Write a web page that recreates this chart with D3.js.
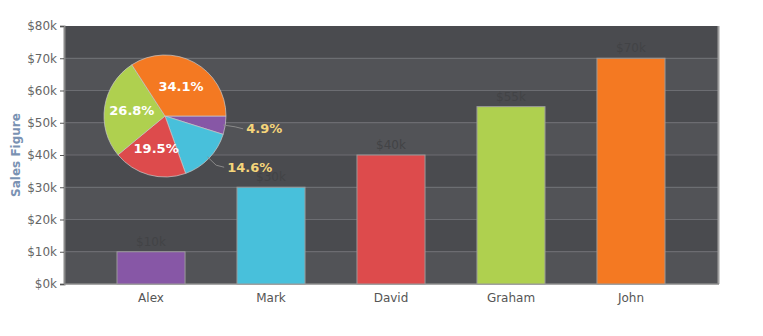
<!DOCTYPE html>
<html>
<head>
<meta charset="utf-8">
<script src="https://cdn.jsdelivr.net/npm/d3@7"></script>
<style>
  body { margin: 0; background: #fff; }
  text { font-family: "DejaVu Sans", Verdana, sans-serif; }
</style>
</head>
<body>
<svg class="rootSvg" width="763" height="336"></svg>
<script>
var names = ['Alex', 'Mark', 'David', 'Graham', 'John'];
var sales = [10000, 30000, 40000, 55000, 70000];
var colors = ['#8757a6', '#48c0db', '#dd4b4c', '#afd04f', '#f47922'];
var yTicks = [0, 10000, 20000, 30000, 40000, 50000, 60000, 70000, 80000];

var plotLeft = 64, plotRight = 718, plotTop = 26, plotBottom = 284;
var svg = d3.select('.rootSvg');

var x = d3.scaleBand()
    .domain(names)
    .range([plotLeft + 27, plotRight - 27])
    .paddingInner(0.433)
    .paddingOuter(0.2167);

var y = d3.scaleLinear()
    .domain([0, 80000])
    .range([plotBottom, plotTop]);

function money(v) {
    return '$' + (v / 1000) + 'k';
}

// Alternating bands
svg.append('g')
    .selectAll('rect')
    .data(yTicks.slice(0, -1))
    .enter()
    .append('rect')
        .attr('x', plotLeft)
        .attr('y', function (d) { return y(d + 10000); })
        .attr('width', plotRight - plotLeft)
        .attr('height', function (d) { return y(d) - y(d + 10000); })
        .attr('fill', function (d, i) { return i % 2 === 0 ? '#525357' : '#4a4b4f'; });

// Grid lines
svg.append('g')
    .selectAll('line')
    .data(yTicks.slice(1, -1))
    .enter()
    .append('line')
        .attr('x1', plotLeft)
        .attr('x2', plotRight)
        .attr('y1', function (d) { return y(d); })
        .attr('y2', function (d) { return y(d); })
        .attr('stroke', '#6c6d72')
        .attr('stroke-width', 1);

// Frame
svg.append('line')
    .attr('x1', plotRight + 0.5).attr('x2', plotRight + 0.5)
    .attr('y1', plotTop).attr('y2', plotBottom)
    .attr('stroke', '#a0a0a0').attr('stroke-width', 2);

svg.append('line')
    .attr('x1', plotLeft).attr('x2', plotRight + 1)
    .attr('y1', plotBottom).attr('y2', plotBottom)
    .attr('stroke', '#8a8a8a').attr('stroke-width', 1.5);

// Y axis
var yAxis = d3.axisLeft(y)
    .tickValues(yTicks)
    .tickFormat(money)
    .tickSize(4)
    .tickPadding(3);

var gy = svg.append('g')
    .attr('transform', 'translate(' + plotLeft + ',0)')
    .call(yAxis);
gy.select('.domain').attr('stroke', '#8a8a8a').attr('stroke-width', 2);
gy.selectAll('.tick line').attr('stroke', '#555');
gy.selectAll('.tick text')
    .attr('fill', '#666')
    .style('font-size', '12px');

// X axis
var gx = svg.append('g')
    .attr('transform', 'translate(0,' + plotBottom + ')')
    .call(d3.axisBottom(x).tickSize(0).tickPadding(9));
gx.select('.domain').remove();
gx.selectAll('.tick text')
    .attr('fill', '#555')
    .style('font-size', '12px');

// Y title
svg.append('text')
    .attr('transform', 'translate(20,' + ((plotTop + plotBottom) / 2) + ') rotate(-90)')
    .attr('text-anchor', 'middle')
    .attr('fill', '#7a92b3')
    .style('font-size', '12px')
    .style('font-weight', 'bold')
    .text('Sales Figure');

// Bars
svg.append('g')
    .selectAll('rect')
    .data(sales)
    .enter()
    .append('rect')
        .attr('x', function (d, i) { return x(names[i]); })
        .attr('y', function (d) { return y(d); })
        .attr('width', x.bandwidth())
        .attr('height', function (d) { return plotBottom - y(d); })
        .attr('fill', function (d, i) { return colors[i]; })
        .attr('stroke', '#9a9a9a')
        .attr('stroke-width', 1);

// Value labels (faint)
svg.append('g')
    .selectAll('text')
    .data(sales)
    .enter()
    .append('text')
        .attr('x', function (d, i) { return x(names[i]) + x.bandwidth() / 2; })
        .attr('y', function (d) { return y(d) - 6; })
        .attr('text-anchor', 'middle')
        .attr('fill', '#424346')
        .style('font-size', '12px')
        .text(money);

// Pie
var cx = 165, cy = 116, r = 61;
var total = d3.sum(sales);
var pie = d3.pie()
    .sort(null)
    .startAngle(Math.PI / 2)
    .endAngle(Math.PI / 2 + 2 * Math.PI);
var arcs = pie(sales);
var arc = d3.arc().innerRadius(0).outerRadius(r);

var gp = svg.append('g')
    .attr('transform', 'translate(' + cx + ',' + cy + ')');

gp.selectAll('path')
    .data(arcs)
    .enter()
    .append('path')
        .attr('d', arc)
        .attr('fill', function (d, i) { return colors[i]; })
        .attr('stroke', '#c8c8c8')
        .attr('stroke-width', 0.7);

function pct(d) {
    return (d.value / total * 100).toFixed(1) + '%';
}

function inside(d) {
    return d.endAngle - d.startAngle > 1.1;
}

var inArc = d3.arc().innerRadius(r * 0.55).outerRadius(r * 0.55);

gp.selectAll('text.in')
    .data(arcs.filter(inside))
    .enter()
    .append('text')
        .attr('class', 'in')
        .attr('transform', function (d) {
            var c = inArc.centroid(d);
            return 'translate(' + c[0] + ',' + c[1] + ')';
        })
        .attr('text-anchor', 'middle')
        .attr('dy', '0.35em')
        .attr('fill', '#fff')
        .style('font-size', '13px')
        .style('font-weight', 'bold')
        .text(pct);

var outside = arcs.filter(function (d) { return !inside(d); });

function mid(d) {
    return (d.startAngle + d.endAngle) / 2;
}

function pt(a, rad) {
    return [Math.sin(a) * rad, -Math.cos(a) * rad];
}

gp.selectAll('path.leader')
    .data(outside)
    .enter()
    .append('path')
        .attr('class', 'leader')
        .attr('fill', 'none')
        .attr('stroke', '#8a8a8a')
        .attr('stroke-width', 1)
        .attr('d', function (d) {
            var a = mid(d);
            var p0 = pt(a, r - 2);
            var p1 = pt(a, r + 10);
            return 'M' + p0 + 'L' + p1 + 'L' + (p1[0] + 8) + ',' + (p1[1] + 2);
        });

gp.selectAll('text.out')
    .data(outside)
    .enter()
    .append('text')
        .attr('class', 'out')
        .attr('x', function (d) { return pt(mid(d), r + 10)[0] + 11; })
        .attr('y', function (d) { return pt(mid(d), r + 10)[1] + 2; })
        .attr('dy', '0.35em')
        .attr('fill', '#f5d57a')
        .style('font-size', '13px')
        .style('font-weight', 'bold')
        .text(pct);
</script>
</body>
</html>
